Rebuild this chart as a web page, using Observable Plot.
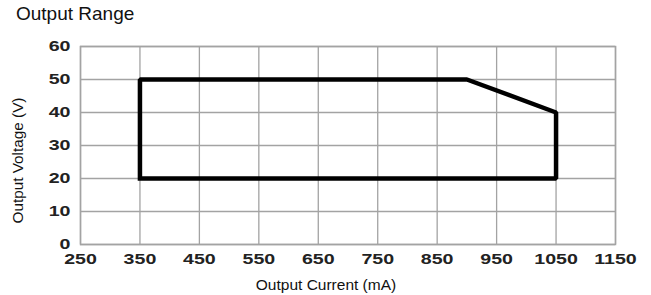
<!DOCTYPE html>
<html>
<head>
<meta charset="utf-8">
<script src="https://cdn.jsdelivr.net/npm/d3@7"></script>
<script src="https://cdn.jsdelivr.net/npm/@observablehq/plot@0.6"></script>
<style>
  body { margin: 0; background: #fff; font-family: "Liberation Sans", Arial, sans-serif; }
  #wrap { position: relative; width: 651px; height: 295px; }
  #title { position: absolute; left: 16px; top: 4px; font-size: 19px; line-height: 19px; color: #111; }
  svg { display: block; }
</style>
</head>
<body>
<div id="wrap"><div id="chart"></div><div id="title">Output Range</div></div>
<script>
const current = [350, 350, 900, 1050, 1050, 350];
const voltage = [20, 50, 50, 40, 20, 20];
const xTicks = [250, 350, 450, 550, 650, 750, 850, 950, 1050, 1150];
const yTicks = [0, 10, 20, 30, 40, 50, 60];
const xTitle = "Output Current (mA)";
const yTitle = "Output Voltage (V)";

const pts = current.map((c, i) => ({c, v: voltage[i]}));
const gridColor = "#a3a3a3";

const plot = Plot.plot({
  width: 651,
  height: 295,
  marginLeft: 80,
  marginRight: 36,
  marginTop: 46,
  marginBottom: 51,
  style: {fontFamily: "'Liberation Sans', Arial, sans-serif", background: "transparent"},
  x: {domain: [250, 1150]},
  y: {domain: [0, 60]},
  marks: [
    Plot.gridX(xTicks, {stroke: gridColor, strokeOpacity: 1, strokeWidth: 1.3}),
    Plot.gridY(yTicks, {stroke: gridColor, strokeOpacity: 1, strokeWidth: 1.3}),
    Plot.frame({stroke: gridColor, strokeWidth: 1.5}),
    Plot.axisX(xTicks, {tickSize: 0, tickPadding: 10, tickFormat: "d", label: null, fontSize: 14, fontWeight: "bold", fill: "#222"}),
    Plot.axisY(yTicks, {tickSize: 0, tickPadding: 10, tickFormat: "d", label: null, fontSize: 14, fontWeight: "bold", fill: "#222"}),
    Plot.line(pts, {x: "c", y: "v", stroke: "#000", strokeWidth: 4.5, strokeLinejoin: "miter", strokeLinecap: "square"}),
    Plot.text([xTitle], {frameAnchor: "bottom", textAnchor: "middle", lineAnchor: "middle", dy: 41, dx: -22, fontSize: 15.5, fill: "#111"}),
    Plot.text([yTitle], {frameAnchor: "left", textAnchor: "middle", lineAnchor: "middle", rotate: -90, dx: -62, dy: 15, fontSize: 15.3, fill: "#111"})
  ]
});
// widen the tick labels horizontally, as in the reference
d3.select(plot).selectAll('g[aria-label$="tick label"] text').each(function() {
  const t = this.getAttribute("transform") || "";
  this.setAttribute("transform", t + " scale(1.4,1)");
});
document.getElementById("chart").appendChild(plot);
</script>
</body>
</html>
